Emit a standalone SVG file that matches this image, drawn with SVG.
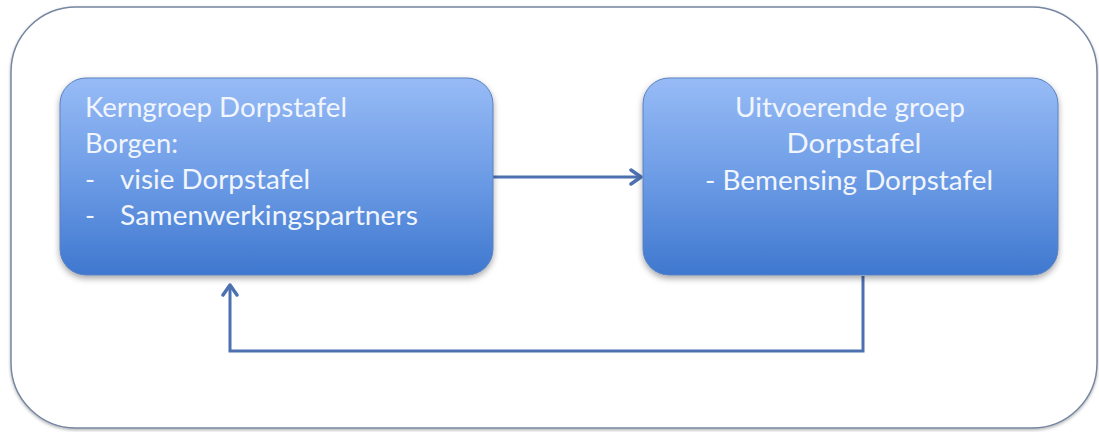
<svg xmlns="http://www.w3.org/2000/svg" width="1099" height="432" viewBox="0 0 1099 432">
  <defs>
    <linearGradient id="nodeGrad" x1="0" y1="0" x2="0" y2="1">
      <stop offset="0" stop-color="#97bbf6"/>
      <stop offset="0.5" stop-color="#6d9ce6"/>
      <stop offset="1" stop-color="#3f78cf"/>
    </linearGradient>
    <filter id="shadow" x="-10%" y="-10%" width="120%" height="130%">
      <feDropShadow dx="0" dy="3" stdDeviation="3" flood-color="#000" flood-opacity="0.35"/>
    </filter>
    <filter id="frameShadow" x="-5%" y="-5%" width="110%" height="110%">
      <feDropShadow dx="0" dy="1.5" stdDeviation="1.5" flood-color="#000" flood-opacity="0.3"/>
    </filter>
    <marker id="arrow" viewBox="0 0 14 18" refX="12" refY="9" markerWidth="14" markerHeight="18" markerUnits="userSpaceOnUse" orient="auto">
      <path d="M2,2 L12,9 L2,16" fill="none" stroke="#4d70b0" stroke-width="3.5" stroke-linecap="round" stroke-linejoin="round"/>
    </marker>
  </defs>
  <style>
    .node { fill: url(#nodeGrad); stroke: #5a80bf; stroke-width: 1; filter: url(#shadow); }
    .label { font-family: Lato, "Open Sans", "Liberation Sans", sans-serif; font-size: 27px; fill: #f1f5fc; }
    .conn { fill: none; stroke: #4d70b0; stroke-width: 3; }
  </style>
  <rect width="1099" height="432" fill="#ffffff"/>
  <g id="frame">
    <rect x="11" y="7" width="1086" height="421" rx="65" ry="65" fill="#ffffff" stroke="#7686a0" stroke-width="1.5" filter="url(#frameShadow)"/>
  </g>
  <g id="connectors">
    <path class="conn" d="M493,177 L641,177" marker-end="url(#arrow)"/>
    <path class="conn" d="M863,276 L863,351 L230,351 L230,285" marker-end="url(#arrow)"/>
  </g>
  <g id="kerngroep">
    <rect class="node" x="60" y="78" width="433" height="197" rx="26" ry="26"/>
    <text class="label" x="85" y="117" textLength="262" lengthAdjust="spacingAndGlyphs">Kerngroep Dorpstafel</text>
    <text class="label" x="85" y="153" textLength="93" lengthAdjust="spacingAndGlyphs">Borgen:</text>
    <text class="label" x="85" y="189">-</text>
    <text class="label" x="120" y="189" textLength="190" lengthAdjust="spacingAndGlyphs">visie Dorpstafel</text>
    <text class="label" x="85" y="225">-</text>
    <text class="label" x="120" y="225" textLength="298" lengthAdjust="spacingAndGlyphs">Samenwerkingspartners</text>
  </g>
  <g id="uitvoerende">
    <rect class="node" x="643" y="78" width="415" height="197" rx="26" ry="26"/>
    <text class="label" x="850" y="117" text-anchor="middle" textLength="230" lengthAdjust="spacingAndGlyphs">Uitvoerende groep</text>
    <text class="label" x="854" y="153" text-anchor="middle" textLength="135" lengthAdjust="spacingAndGlyphs">Dorpstafel</text>
    <text class="label" x="849" y="190" text-anchor="middle" textLength="288" lengthAdjust="spacingAndGlyphs">- Bemensing Dorpstafel</text>
  </g>
</svg>
